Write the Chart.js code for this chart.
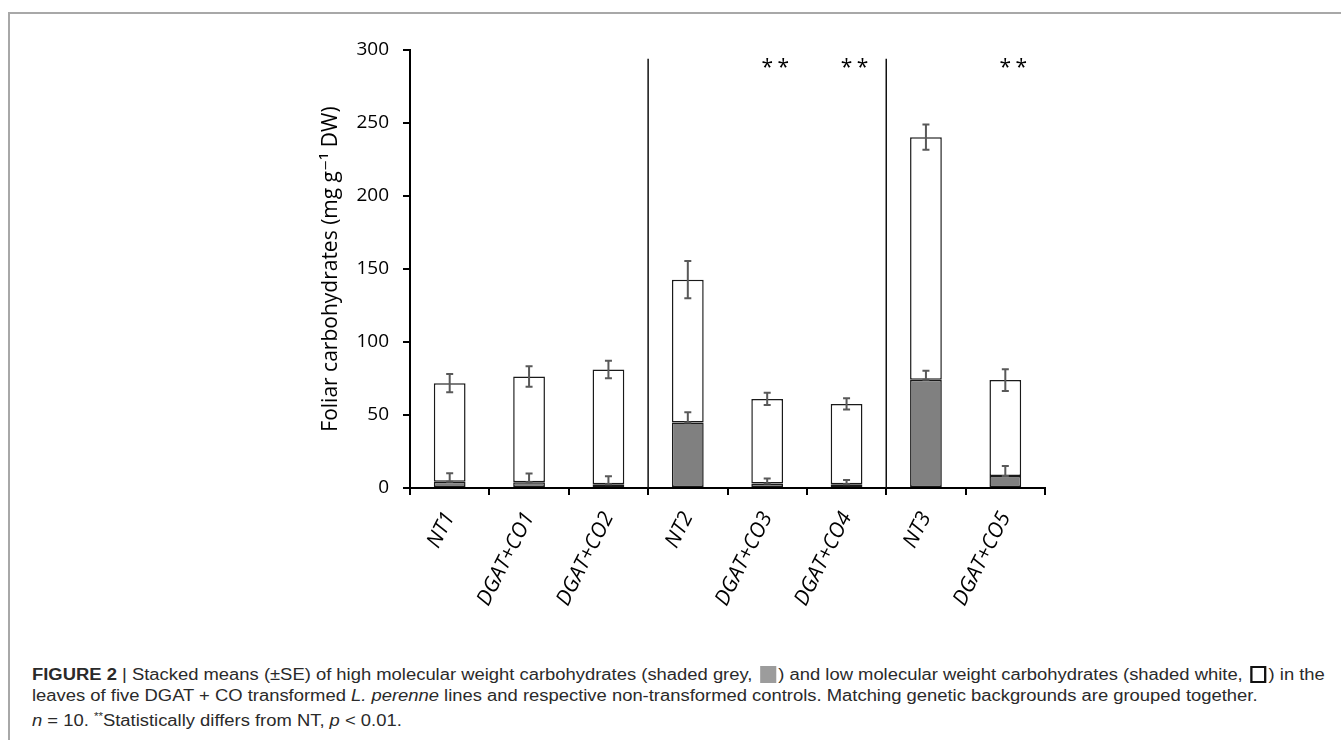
<!DOCTYPE html>
<html>
<head>
<meta charset="utf-8">
<script src="https://cdn.jsdelivr.net/npm/chart.js@4.4.1/dist/chart.umd.min.js"></script>
<style>
html, body { margin: 0; padding: 0; background: #fff; }
body { width: 1341px; height: 740px; position: relative; overflow: hidden; }
#frame { position: absolute; left: 8px; top: 12px; width: 1400px; height: 800px;
  border-top: 2px solid #a8a8a8; border-left: 2px solid #a8a8a8; }
#wrap { position: absolute; left: 0; top: 0; width: 1341px; height: 640px; }
#caption { position: absolute; left: 32px; top: 664px; font-family: "Liberation Sans", Arial, sans-serif;
  font-size: 16px; color: #2a2a2a; line-height: 21px; white-space: nowrap; }
#caption .ln { transform-origin: 0 0; height: 21px; }
.sq { display: inline-block; width: 14px; height: 17px; vertical-align: -3px; margin: 0 2px; box-sizing: border-box; }
.sq.grey { background: #9c9c9c; }
.sq.white { background: #fff; border: 2px solid #111; }
</style>
</head>
<body>
<div id="frame"></div>
<div id="wrap"><canvas id="chart" width="1341" height="640"></canvas></div>
<div id="caption">
  <div class="ln"><b>FIGURE 2</b> | Stacked means (±SE) of high molecular weight carbohydrates (shaded grey, <span class="sq grey"></span>) and low molecular weight carbohydrates (shaded white, <span class="sq white"></span>) in the</div>
  <div class="ln">leaves of five DGAT + CO transformed <i>L. perenne</i> lines and respective non-transformed controls. Matching genetic backgrounds are grouped together.</div>
  <div class="ln"><i>n</i> = 10. <sup style="font-size:10px">**</sup>Statistically differs from NT, <i>p</i> &lt; 0.01.</div>
</div>
<script>
// lines, in plot order
const labels = ['NT1', 'DGAT+CO1', 'DGAT+CO2', 'NT2', 'DGAT+CO3', 'DGAT+CO4', 'NT3', 'DGAT+CO5'];
// high molecular weight carbohydrates (grey, bottom of the stack)
const hmwMean = [4.3, 4, 2.5, 44.8, 3, 2.5, 74.1, 8.2];
const hmwSE = [5.8, 6, 5.5, 7.1, 3.5, 3, 6.2, 6.9];
// low molecular weight carbohydrates (white, stacked on top)
const lmwMean = [67.5, 72.4, 78.7, 97.9, 58, 55.1, 166.2, 65.7];
const lmwSE = [6.3, 7, 6, 12.8, 4.2, 3.9, 8.7, 7.4];
// significance marks and where a new genetic background starts
const signif = ['', '', '', '', '**', '**', '', '**'];
const groupStarts = [3, 6];

const fontFam = '"Open Sans", "DejaVu Sans", sans-serif';

const extras = {
  id: 'extras',
  afterDatasetsDraw(chart) {
    const ctx = chart.ctx;
    const x = chart.scales.x, y = chart.scales.y;
    ctx.save();

    // error bars: grey series plus only, white series both ways
    ctx.strokeStyle = '#595959';
    ctx.lineWidth = 2;
    const cap = 3.5;
    function bar(xc, y1, y2) {
      ctx.beginPath();
      ctx.moveTo(xc, y1); ctx.lineTo(xc, y2);
      ctx.moveTo(xc - cap, y1); ctx.lineTo(xc + cap, y1);
      ctx.moveTo(xc - cap, y2); ctx.lineTo(xc + cap, y2);
      ctx.stroke();
    }
    labels.forEach(function (lab, i) {
      const xc = x.getPixelForValue(i);
      bar(xc, y.getPixelForValue(hmwMean[i]), y.getPixelForValue(hmwMean[i] + hmwSE[i]));
      const total = hmwMean[i] + lmwMean[i];
      bar(xc, y.getPixelForValue(total - lmwSE[i]), y.getPixelForValue(total + lmwSE[i]));
    });

    // group separators
    ctx.strokeStyle = '#111';
    ctx.lineWidth = 1.5;
    groupStarts.forEach(function (g) {
      const xs = (x.getPixelForValue(g - 1) + x.getPixelForValue(g)) / 2;
      ctx.beginPath();
      ctx.moveTo(xs, y.getPixelForValue(294));
      ctx.lineTo(xs, y.getPixelForValue(0));
      ctx.stroke();
    });

    // asterisks
    ctx.fillStyle = '#000';
    ctx.font = '21px ' + fontFam;
    ctx.textAlign = 'center';
    ctx.textBaseline = 'alphabetic';
    signif.forEach(function (s, i) {
      if (!s) return;
      const xc = x.getPixelForValue(i) + 8;
      const yy = y.getPixelForValue(283.5);
      ctx.fillText('*', xc - 8, yy);
      ctx.fillText('*', xc + 8, yy);
    });
    ctx.restore();
  }
};

new Chart(document.getElementById('chart'), {
  type: 'bar',
  data: {
    labels: labels,
    datasets: [{
      label: 'High molecular weight',
      data: hmwMean,
      backgroundColor: '#808080',
      borderColor: '#1a1a1a',
      borderWidth: 1.5,
      borderSkipped: false,
      barPercentage: 0.4,
      categoryPercentage: 1
    }, {
      label: 'Low molecular weight',
      data: lmwMean,
      backgroundColor: '#ffffff',
      borderColor: '#1a1a1a',
      borderWidth: 1.5,
      borderSkipped: false,
      barPercentage: 0.4,
      categoryPercentage: 1
    }]
  },
  options: {
    responsive: false,
    animation: false,
    devicePixelRatio: 1,
    layout: { padding: { left: 318, right: 296, top: 50, bottom: 22 } },
    plugins: { legend: { display: false }, tooltip: { enabled: false } },
    scales: {
      x: {
        stacked: true,
        grid: { offset: true, drawOnChartArea: false, drawTicks: true, tickLength: 7, color: '#000', lineWidth: 2 },
        border: { color: '#000', width: 2 },
        ticks: { color: '#000', autoSkip: false, minRotation: 63, maxRotation: 63, padding: 13,
          font: { family: fontFam, size: 21, style: 'italic' } },
        afterFit: function (s) { s.height = 130; }
      },
      y: {
        stacked: true,
        min: 0,
        max: 300,
        ticks: { stepSize: 50, color: '#000', padding: 14, font: { family: fontFam, size: 19 } },
        grid: { drawOnChartArea: false, drawTicks: true, tickLength: 7, color: '#000', lineWidth: 2 },
        border: { color: '#000', width: 2 },
        title: { display: true, text: 'Foliar carbohydrates (mg g⁻¹ DW)', color: '#000',
          font: { family: fontFam, size: 21 }, padding: 0 },
        afterFit: function (s) { s.width = 92; }
      }
    }
  },
  plugins: [extras]
});

// squeeze the caption lines to the width of the printed caption
const lines = document.querySelectorAll('#caption .ln');
const w0 = lines[0].scrollWidth;
const k = 1293 / w0;
lines.forEach(function (l) { l.style.transform = 'scaleX(' + k + ')'; });
</script>
</body>
</html>
